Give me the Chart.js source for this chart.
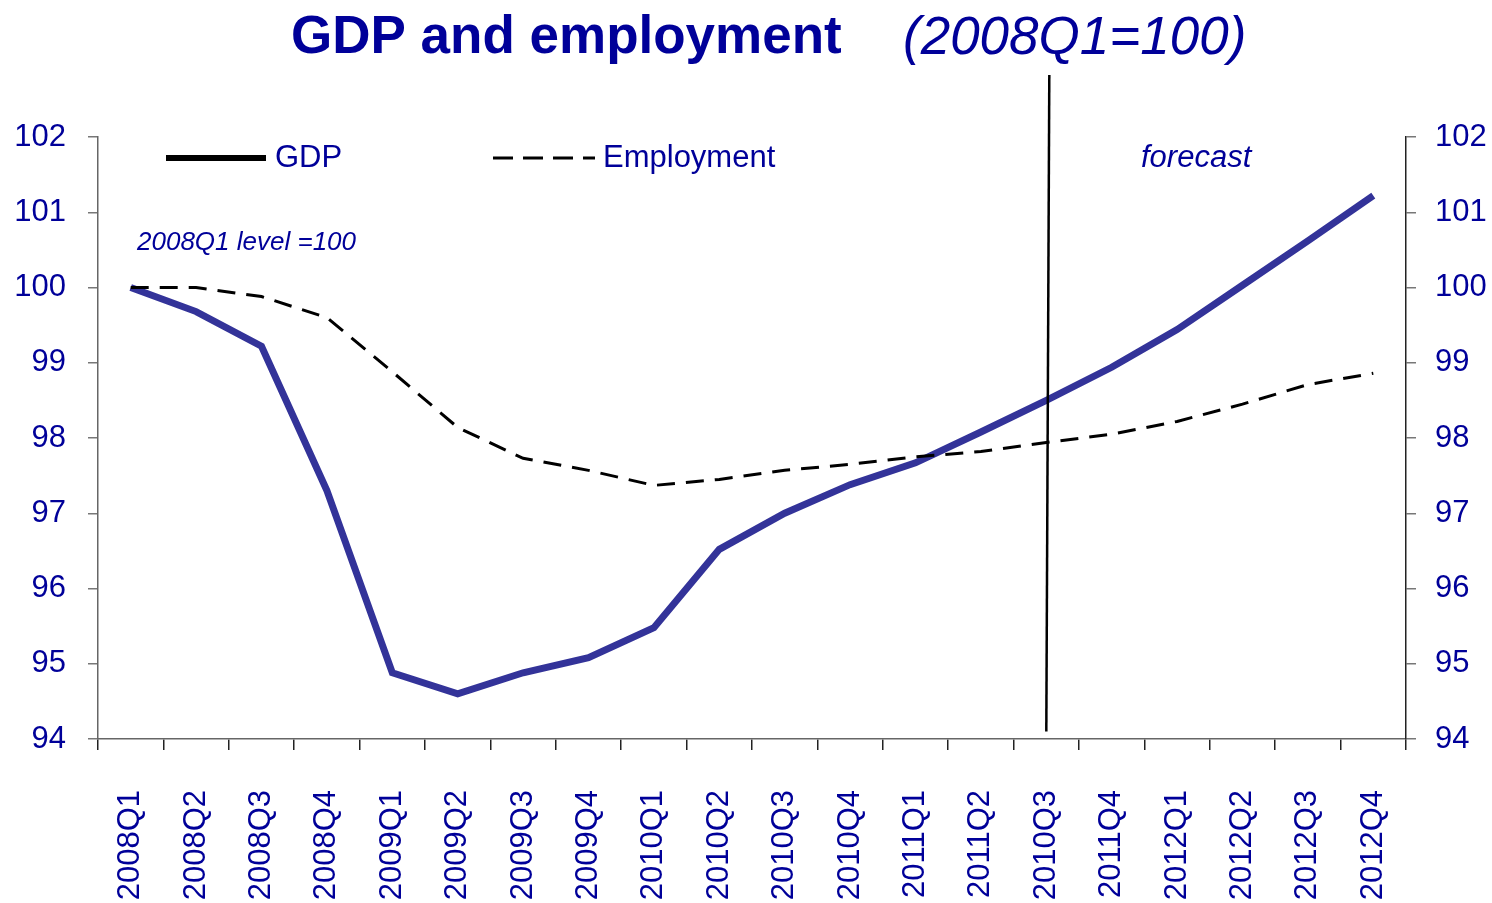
<!DOCTYPE html>
<html>
<head>
<meta charset="utf-8">
<title>GDP and employment</title>
<script src="https://cdn.jsdelivr.net/npm/chart.js@4.4.1/dist/chart.umd.min.js"></script>
<style>
    html, body { margin: 0; padding: 0; background: #ffffff; }
    #wrap { width: 1492px; height: 903px; position: relative; }
</style>
</head>
<body>
<div id="wrap"><canvas id="gdpChart"></canvas></div>
<script>
// Quarters on the x axis (the "2010Q3" in the 15th slot is as printed in the original)
const quarters = ['2008Q1', '2008Q2', '2008Q3', '2008Q4', '2009Q1', '2009Q2', '2009Q3', '2009Q4',
    '2010Q1', '2010Q2', '2010Q3', '2010Q4', '2011Q1', '2011Q2', '2010Q3', '2011Q4',
    '2012Q1', '2012Q2', '2012Q3', '2012Q4'];

// Index levels, 2008Q1 = 100
const gdp = [100.0, 99.68, 99.22, 97.3, 94.88, 94.6, 94.88, 95.08, 95.48, 96.52,
    97.0, 97.38, 97.67, 98.08, 98.5, 98.94, 99.44, 100.03, 100.62, 101.22];
const employment = [100.0, 100.0, 99.88, 99.6, 98.88, 98.14, 97.73, 97.57, 97.37, 97.45,
    97.57, 97.65, 97.75, 97.82, 97.94, 98.05, 98.22, 98.45, 98.71, 98.86];

// Axis range
const yMin = 94;
const yMax = 102;
const forecastIndex = 14; // first forecast quarter

const FONT = '"Liberation Sans", Arial, Helvetica, sans-serif';
const BLUE_TEXT = '#000099';
const GDP_BLUE = '#333399';

// Title, legend, notes and the forecast divider
const decorations = {
    id: 'decorations',
    afterDraw(chart) {
        const ctx = chart.ctx;
        const area = chart.chartArea;
        const x = chart.scales.x;
        const y = chart.scales.y;
        ctx.save();

        // title
        ctx.fillStyle = BLUE_TEXT;
        ctx.textBaseline = 'alphabetic';
        ctx.textAlign = 'left';
        ctx.font = 'bold 53px ' + FONT;
        ctx.fillText('GDP and employment', 291, 53);
        ctx.font = 'italic 53px ' + FONT;
        ctx.fillText('(2008Q1=100)', 903, 54);

        // forecast divider
        const fx = x.getPixelForValue(forecastIndex);
        ctx.strokeStyle = '#000000';
        ctx.lineWidth = 2.5;
        ctx.beginPath();
        ctx.moveTo(fx + 3, 75);
        ctx.lineTo(fx, y.getPixelForValue(94.1));
        ctx.stroke();

        // legend
        const ly = area.top + 21;
        ctx.textBaseline = 'middle';
        ctx.lineWidth = 6;
        ctx.setLineDash([]);
        ctx.beginPath();
        ctx.moveTo(area.left + 68, ly);
        ctx.lineTo(area.left + 168, ly);
        ctx.stroke();
        ctx.font = '31px ' + FONT;
        ctx.fillText('GDP', area.left + 177, ly);

        ctx.lineWidth = 3;
        ctx.setLineDash([20, 10]);
        ctx.beginPath();
        ctx.moveTo(area.left + 395, ly);
        ctx.lineTo(area.left + 497, ly);
        ctx.stroke();
        ctx.setLineDash([]);
        ctx.fillText('Employment', area.left + 505, ly);

        // notes
        ctx.font = 'italic 31px ' + FONT;
        ctx.fillText('forecast', 1141, ly);
        ctx.font = 'italic 26px ' + FONT;
        ctx.fillText('2008Q1 level =100', 137, y.getPixelForValue(100.6));

        ctx.restore();
    }
};

const tickFont = { family: FONT, size: 31 };

new Chart(document.getElementById('gdpChart').getContext('2d'), {
    type: 'line',
    data: {
        labels: quarters,
        datasets: [{
            label: 'Employment',
            data: employment,
            borderColor: '#000000',
            borderWidth: 3,
            borderDash: [18, 11],
            pointRadius: 0,
            fill: false,
            tension: 0,
            yAxisID: 'y'
        }, {
            label: 'GDP',
            data: gdp,
            borderColor: GDP_BLUE,
            borderWidth: 7,
            pointRadius: 0,
            fill: false,
            tension: 0,
            yAxisID: 'y'
        }]
    },
    options: {
        responsive: true,
        maintainAspectRatio: false,
        animation: false,
        layout: { padding: { top: 137, left: 0, right: 0, bottom: 0 } },
        plugins: {
            legend: { display: false },
            title: { display: false },
            tooltip: { enabled: false }
        },
        scales: {
            x: {
                type: 'category',
                offset: true,
                grid: { offset: true, drawOnChartArea: false, tickLength: 11, color: '#222222', lineWidth: 1.5 },
                border: { color: '#666666', width: 1.5 },
                ticks: {
                    color: BLUE_TEXT,
                    font: tickFont,
                    autoSkip: false,
                    maxRotation: 90,
                    minRotation: 90,
                    padding: 40
                },
                afterFit(scale) { scale.height = 164; }
            },
            y: {
                position: 'left',
                min: yMin,
                max: yMax,
                grid: { drawOnChartArea: false, tickLength: 10, color: '#777777', lineWidth: 1.5 },
                border: { color: '#666666', width: 1.5 },
                ticks: { stepSize: 1, color: BLUE_TEXT, font: tickFont, padding: 22 },
                afterFit(scale) { scale.width = 98; }
            },
            y2: {
                position: 'right',
                min: yMin,
                max: yMax,
                grid: { drawOnChartArea: false, tickLength: 10, color: '#777777', lineWidth: 1.5 },
                border: { color: '#222222', width: 1.5 },
                ticks: { stepSize: 1, color: BLUE_TEXT, font: tickFont, padding: 19 },
                afterFit(scale) { scale.width = 86; }
            }
        }
    },
    plugins: [decorations]
});
</script>
</body>
</html>
